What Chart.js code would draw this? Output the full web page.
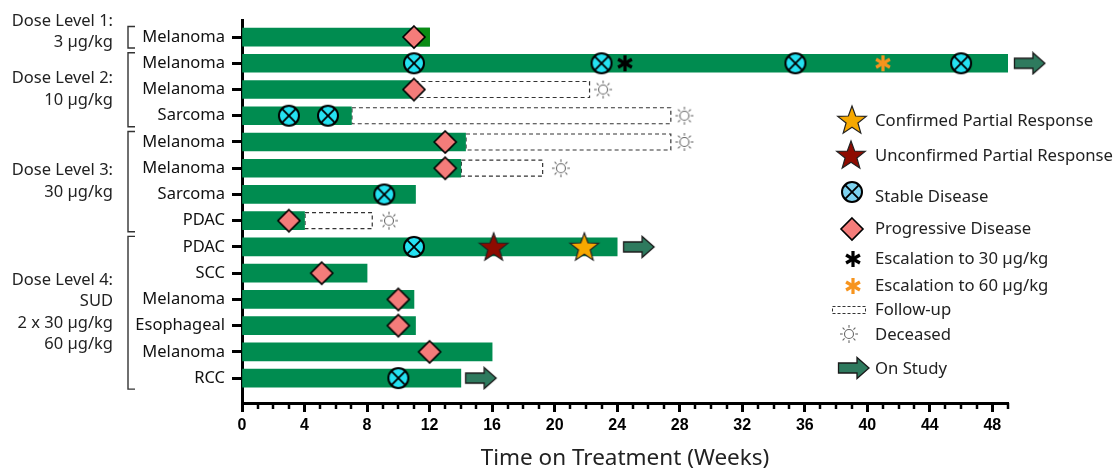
<!DOCTYPE html>
<html>
<head>
<meta charset="utf-8">
<script src="https://cdn.jsdelivr.net/npm/chart.js@4.4.1/dist/chart.umd.min.js"></script>
<style>
  html, body { margin: 0; padding: 0; background: #fff; }
</style>
</head>
<body>
<canvas id="swim" width="1114" height="468"></canvas>
<script>
// rows, top to bottom
const rowNames = ['Melanoma', 'Melanoma', 'Melanoma', 'Sarcoma', 'Melanoma', 'Melanoma', 'Sarcoma', 'PDAC',
                  'PDAC', 'SCC', 'Melanoma', 'Esophageal', 'Melanoma', 'RCC'];
const barEnds = [12, 49, 11, 7, 14.3, 14, 11.1, 4, 24, 8, 11, 11.1, 16, 14];
// short lighter-green tail on the first bar: [row, start, end]
const tailBars = [[0, 11.2, 12]];
// [row, start, end] in weeks
const followUp = [[2, 11, 22.2], [3, 7, 27.4], [4, 14.3, 27.4], [5, 14, 19.2], [7, 4, 8.3]];
// [row, week]
const deceased = [[2, 23.1], [3, 28.3], [4, 28.3], [5, 20.4], [7, 9.4]];
const progressive = [[0, 11], [2, 11], [4, 13], [5, 13], [7, 3], [9, 5.1], [10, 10], [11, 10], [12, 12]];
const stable = [[1, 11], [1, 23], [1, 35.4], [1, 46], [3, 3], [3, 5.5], [6, 9.1], [8, 11], [13, 10]];
const confirmedPR = [[8, 21.9]];
const unconfirmedPR = [[8, 16.1]];
const esc30 = [[1, 24.5]];
const esc60 = [[1, 41]];
const onStudy = [[1, 50.4], [8, 25.4], [13, 15.3]];

const groupLabels = [['Dose Level 1:', '3 µg/kg'], ['Dose Level 2:', '10 µg/kg'], ['Dose Level 3:', '30 µg/kg'],
                     ['Dose Level 4:', 'SUD', '2 x 30 µg/kg', '60 µg/kg']];
const groupRows = [[0, 0], [1, 3], [4, 7], [8, 13]];

const FONT = 'Noto Sans';
Chart.defaults.font.family = FONT;

function icon(w, h, draw) {
  const c = document.createElement('canvas');
  c.width = w; c.height = h;
  draw(c.getContext('2d'), w / 2, h / 2);
  return c;
}
function starPath(c, cx, cy, ro, ri) {
  c.beginPath();
  for (let k = 0; k < 10; k++) {
    const r = k % 2 ? ri : ro;
    const a = -Math.PI / 2 + k * Math.PI / 5;
    c.lineTo(cx + r * Math.cos(a), cy + r * Math.sin(a));
  }
  c.closePath();
}
function starIcon(fill) {
  return icon(34, 34, (c, x, y) => {
    starPath(c, x, y + 1, 15, 6.2);
    c.fillStyle = fill; c.fill();
    c.lineWidth = 1.2; c.strokeStyle = '#222'; c.stroke();
  });
}
function sdIcon(fill) {
  return icon(26, 26, (c, x, y) => {
    c.beginPath(); c.arc(x, y, 10, 0, 2 * Math.PI);
    c.fillStyle = fill; c.fill();
    c.lineWidth = 2; c.strokeStyle = '#000'; c.stroke();
    const d = 10 * Math.SQRT1_2;
    c.beginPath();
    c.moveTo(x - d, y - d); c.lineTo(x + d, y + d);
    c.moveTo(x + d, y - d); c.lineTo(x - d, y + d);
    c.lineWidth = 1.8; c.stroke();
  });
}
function asterisk(color) {
  return icon(22, 22, (c, x, y) => {
    c.strokeStyle = color; c.lineWidth = 3.2;
    [90, 30, 150].forEach(deg => {
      const a = deg * Math.PI / 180;
      c.beginPath();
      c.moveTo(x - 8 * Math.cos(a), y - 8 * Math.sin(a));
      c.lineTo(x + 8 * Math.cos(a), y + 8 * Math.sin(a));
      c.stroke();
    });
  });
}
const goldStar = starIcon('#F6A800');
const redStar = starIcon('#8E0B00');
const sdMark = sdIcon('#25E2F2');
const sdLegend = sdIcon('#7DD3F0');
const diamond = icon(26, 26, (c, x, y) => {
  c.beginPath();
  c.moveTo(x, y - 11); c.lineTo(x + 11, y); c.lineTo(x, y + 11); c.lineTo(x - 11, y); c.closePath();
  c.fillStyle = '#F47C7A'; c.fill();
  c.lineWidth = 1.6; c.strokeStyle = '#000'; c.stroke();
});
const blackAst = asterisk('#000');
const orangeAst = asterisk('#F7941D');
const sun = icon(22, 22, (c, x, y) => {
  c.strokeStyle = '#666'; c.lineWidth = 1.1;
  c.beginPath(); c.arc(x, y, 4.5, 0, 2 * Math.PI); c.stroke();
  for (let k = 0; k < 8; k++) {
    const a = k * Math.PI / 4;
    c.beginPath();
    c.moveTo(x + 6.3 * Math.cos(a), y + 6.3 * Math.sin(a));
    c.lineTo(x + 9 * Math.cos(a), y + 9 * Math.sin(a));
    c.stroke();
  }
});
const arrow = icon(34, 24, (c) => {
  c.beginPath();
  c.moveTo(1.5, 7); c.lineTo(20, 7); c.lineTo(20, 1.5); c.lineTo(32, 12);
  c.lineTo(20, 22.5); c.lineTo(20, 17); c.lineTo(1.5, 17); c.closePath();
  c.fillStyle = '#2E7A5E'; c.fill();
  c.strokeStyle = '#1a1a1a'; c.lineWidth = 1.3; c.stroke();
});
const dashIcon = icon(36, 12, (c) => {
  c.setLineDash([3, 2]); c.strokeStyle = '#333'; c.lineWidth = 1;
  c.strokeRect(1.5, 2.5, 33, 7);
});

const pts = arr => arr.map(([r, w]) => ({ x: w, y: r }));
function markers(label, arr, style, extra) {
  return Object.assign({
    type: 'scatter', label: label, data: pts(arr), pointStyle: style,
    pointRadius: 12, pointHoverRadius: 12, order: 1
  }, extra || {});
}

const followUpPlugin = {
  id: 'followUp',
  beforeDatasetsDraw(chart) {
    const { ctx, scales: { x, y } } = chart;
    ctx.save();
    ctx.setLineDash([4, 3]);
    ctx.lineWidth = 1.2;
    ctx.strokeStyle = '#333';
    ctx.fillStyle = '#fff';
    followUp.forEach(([r, s, e]) => {
      const x0 = x.getPixelForValue(s), x1 = x.getPixelForValue(e), yc = y.getPixelForValue(r);
      ctx.fillRect(x0, yc - 8, x1 - x0, 16);
      ctx.strokeRect(x0 + 0.5, yc - 8, x1 - x0, 16);
    });
    ctx.restore();
  }
};

const decorPlugin = {
  id: 'decor',
  afterDraw(chart) {
    const { ctx, chartArea, scales: { x, y } } = chart;
    ctx.save();
    // minor ticks every week
    ctx.strokeStyle = '#000';
    ctx.lineWidth = 2.5;
    for (let w = 1; w <= 49; w++) {
      if (w % 4 === 0) continue;
      const p = Math.round(x.getPixelForValue(w));
      ctx.beginPath();
      ctx.moveTo(p, chartArea.bottom);
      ctx.lineTo(p, chartArea.bottom + 6);
      ctx.stroke();
    }
    // dose level groups
    ctx.font = '16.5px "' + FONT + '"';
    ctx.fillStyle = '#222';
    ctx.textAlign = 'right';
    ctx.textBaseline = 'middle';
    groupRows.forEach(([a, b], i) => {
      const top = y.getPixelForValue(a - 0.4), bot = y.getPixelForValue(b + 0.42);
      ctx.strokeStyle = '#333';
      ctx.lineWidth = 1.4;
      ctx.beginPath();
      ctx.moveTo(135, top); ctx.lineTo(128, top); ctx.lineTo(128, bot); ctx.lineTo(135, bot);
      ctx.stroke();
      const lines = groupLabels[i];
      const mid = i === 0 ? y.getPixelForValue(a - 0.2) : y.getPixelForValue((a + b) / 2);
      lines.forEach((t, k) => {
        ctx.fillText(t, 113, mid + (k - (lines.length - 1) / 2) * 21.5);
      });
    });
    // legend
    const items = [
      ['Confirmed Partial Response', goldStar, 852, 120, 121],
      ['Unconfirmed Partial Response', redStar, 851, 155, 156],
      ['Stable Disease', sdLegend, 852, 192, 197],
      ['Progressive Disease', diamond, 852, 229, 229],
      ['Escalation to 30 µg/kg', blackAst, 853, 259, 259],
      ['Escalation to 60 µg/kg', orangeAst, 853, 286, 286],
      ['Follow-up', dashIcon, 849, 310, 310],
      ['Deceased', sun, 849, 334, 335],
      ['On Study', arrow, 854, 368, 369]
    ];
    ctx.textAlign = 'left';
    ctx.font = '16.7px "' + FONT + '"';
    items.forEach(([t, img, ix, iy, ty]) => {
      ctx.drawImage(img, ix - img.width / 2, iy - img.height / 2);
      ctx.fillText(t, 875, ty);
    });
    ctx.restore();
  }
};

new Chart(document.getElementById('swim'), {
  type: 'scatter',
  data: {
    datasets: [
      markers('Confirmed Partial Response', confirmedPR, goldStar),
      markers('Unconfirmed Partial Response', unconfirmedPR, redStar),
      markers('Stable Disease', stable, sdMark),
      markers('Progressive Disease', progressive, diamond),
      markers('Escalation to 30 µg/kg', esc30, blackAst),
      markers('Escalation to 60 µg/kg', esc60, orangeAst),
      markers('Deceased', deceased, sun, { clip: false }),
      markers('On Study', onStudy, arrow, { clip: false, pointRadius: 30, pointHoverRadius: 30 }),
      {
        type: 'bar',
        label: 'Tail',
        indexAxis: 'y',
        data: tailBars.map(([r, s, e]) => ({ x: [s, e], y: r })),
        backgroundColor: '#0A8C14',
        barThickness: 18,
        grouped: false,
        order: 9
      },
      {
        type: 'bar',
        label: 'Treatment',
        indexAxis: 'y',
        data: barEnds.map((e, i) => ({ x: [0, e], y: i })),
        backgroundColor: '#008C50',
        barThickness: 18,
        grouped: false,
        order: 10
      }
    ]
  },
  options: {
    responsive: false,
    animation: false,
    events: [],
    layout: { autoPadding: false, padding: { left: 0, top: 20, right: 106, bottom: 0 } },
    plugins: { legend: { display: false }, tooltip: { enabled: false } },
    scales: {
      x: {
        type: 'linear',
        min: 0,
        max: 49,
        ticks: {
          stepSize: 4,
          includeBounds: false,
          color: '#000',
          padding: 4,
          font: { family: 'Liberation Sans', size: 16, weight: 'bold' }
        },
        grid: { display: true, drawOnChartArea: false, tickLength: 9, tickWidth: 3, tickColor: '#000' },
        border: { display: true, color: '#000', width: 3 },
        title: {
          display: true,
          text: 'Time on Treatment (Weeks)',
          color: '#222',
          font: { family: FONT, size: 22.5, lineHeight: 0.85 },
          padding: { top: 2, bottom: 0 }
        },
        afterFit: s => { s.height = 65; s.paddingLeft = 0; s.paddingRight = 0; }
      },
      y: {
        type: 'linear',
        reverse: true,
        min: -0.65,
        max: 13.95,
        offset: false,
        afterBuildTicks: s => { s.ticks = rowNames.map((n, i) => ({ value: i })); },
        ticks: {
          autoSkip: false,
          color: '#111',
          padding: 7,
          font: { family: FONT, size: 16.5 },
          callback: v => rowNames[v]
        },
        grid: { display: true, offset: false, drawOnChartArea: false, tickLength: 10, tickWidth: 3, tickColor: '#000' },
        border: { display: true, color: '#000', width: 3 },
        afterFit: s => { s.width = 242; s.paddingTop = 0; s.paddingBottom = 0; }
      }
    }
  },
  plugins: [followUpPlugin, decorPlugin]
});
</script>
</body>
</html>
